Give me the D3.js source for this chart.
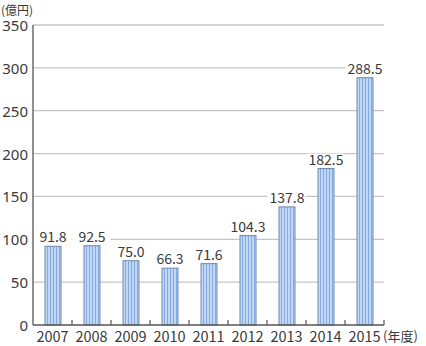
<!DOCTYPE html>
<html>
<head>
<meta charset="utf-8">
<script src="https://cdn.jsdelivr.net/npm/d3@7"></script>
<style>
body { margin: 0; background: #fff; }
text { font-family: "Noto Sans CJK JP", "Noto Sans", sans-serif; fill: #3a3a3a; }
</style>
</head>
<body>
<script>
var years = ['2007','2008','2009','2010','2011','2012','2013','2014','2015'];
var values = [91.8, 92.5, 75.0, 66.3, 71.6, 104.3, 137.8, 182.5, 288.5];
var yTicks = [0, 50, 100, 150, 200, 250, 300, 350];

var W = 426, H = 346;
var mLeft = 33, mRight = 384, mTop = 25, mBottom = 325;

var svg = d3.select('body').append('svg').attr('width', W).attr('height', H);

var defs = svg.append('defs');
var pat = defs.append('pattern')
	.attr('id', 'stripe')
	.attr('patternUnits', 'userSpaceOnUse')
	.attr('width', 3).attr('height', 10);
pat.append('rect').attr('width', 3).attr('height', 10).attr('fill', '#c2d7f4');
pat.append('rect').attr('x', 2).attr('width', 1).attr('height', 10).attr('fill', '#82aae4');

var x = d3.scaleBand().domain(years).range([mLeft, mRight]).paddingInner(0.59).paddingOuter(0.295);
var y = d3.scaleLinear().domain([0, 350]).range([mBottom, mTop]);

// grid lines
svg.selectAll('.grid').data(yTicks.slice(1)).enter().append('line')
	.attr('x1', mLeft).attr('x2', mRight)
	.attr('y1', function(d){ return y(d); }).attr('y2', function(d){ return y(d); })
	.attr('stroke', '#c4c4c4').attr('stroke-width', 1.3);

// y labels
svg.selectAll('.ylab').data(yTicks).enter().append('text')
	.attr('x', 28).attr('y', function(d){ return y(d); })
	.attr('dy', '0.4em')
	.attr('text-anchor', 'end')
	.style('font-size', '15px')
	.style('font-family', 'Noto Sans, sans-serif')
	.text(function(d){ return d; });

svg.append('text').attr('x', 1).attr('y', 14.5).style('font-size', '12px').text('(億円)');

// bars
svg.selectAll('.bar').data(values).enter().append('rect')
	.attr('x', function(d, i){ return x(years[i]) + 0.5; })
	.attr('y', function(d){ return y(d); })
	.attr('width', x.bandwidth())
	.attr('height', function(d){ return mBottom - y(d); })
	.attr('fill', 'url(#stripe)')
	.attr('stroke', '#6f88a8').attr('stroke-width', 1);

// value labels
var lab = svg.selectAll('.val').data(values).enter().append('g');
lab.append('rect')
	.attr('x', function(d, i){ return x(years[i]) + x.bandwidth()/2 - 19; })
	.attr('y', function(d){ return y(d) - 15; })
	.attr('width', 38).attr('height', 11)
	.attr('fill', '#fff');
lab.append('text')
	.attr('x', function(d, i){ return x(years[i]) + x.bandwidth()/2 + 0.5; })
	.attr('y', function(d){ return y(d) - 4; })
	.attr('text-anchor', 'middle')
	.style('font-size', '14px')
	.text(function(d){ return d.toFixed(1); });

// axes
svg.append('line').attr('x1', mLeft).attr('x2', mLeft).attr('y1', mTop).attr('y2', mBottom)
	.attr('stroke', '#555').attr('stroke-width', 1.3);
svg.append('line').attr('x1', mLeft).attr('x2', mRight).attr('y1', mBottom).attr('y2', mBottom)
	.attr('stroke', '#555').attr('stroke-width', 1.3);

var step = x.step();
svg.selectAll('.xt').data(d3.range(1, years.length + 1)).enter().append('line')
	.attr('x1', function(d){ return mLeft + d * step; })
	.attr('x2', function(d){ return mLeft + d * step; })
	.attr('y1', mBottom).attr('y2', mBottom - 5)
	.attr('stroke', '#555').attr('stroke-width', 1.2);

svg.selectAll('.xlab').data(years).enter().append('text')
	.attr('x', function(d){ return x(d) + x.bandwidth()/2; })
	.attr('y', 342)
	.attr('text-anchor', 'middle')
	.style('font-size', '14.5px')
	.text(function(d){ return d; });

svg.append('text').attr('x', 383).attr('y', 341).style('font-size', '13px').text('(年度)');
</script>
</body>
</html>
